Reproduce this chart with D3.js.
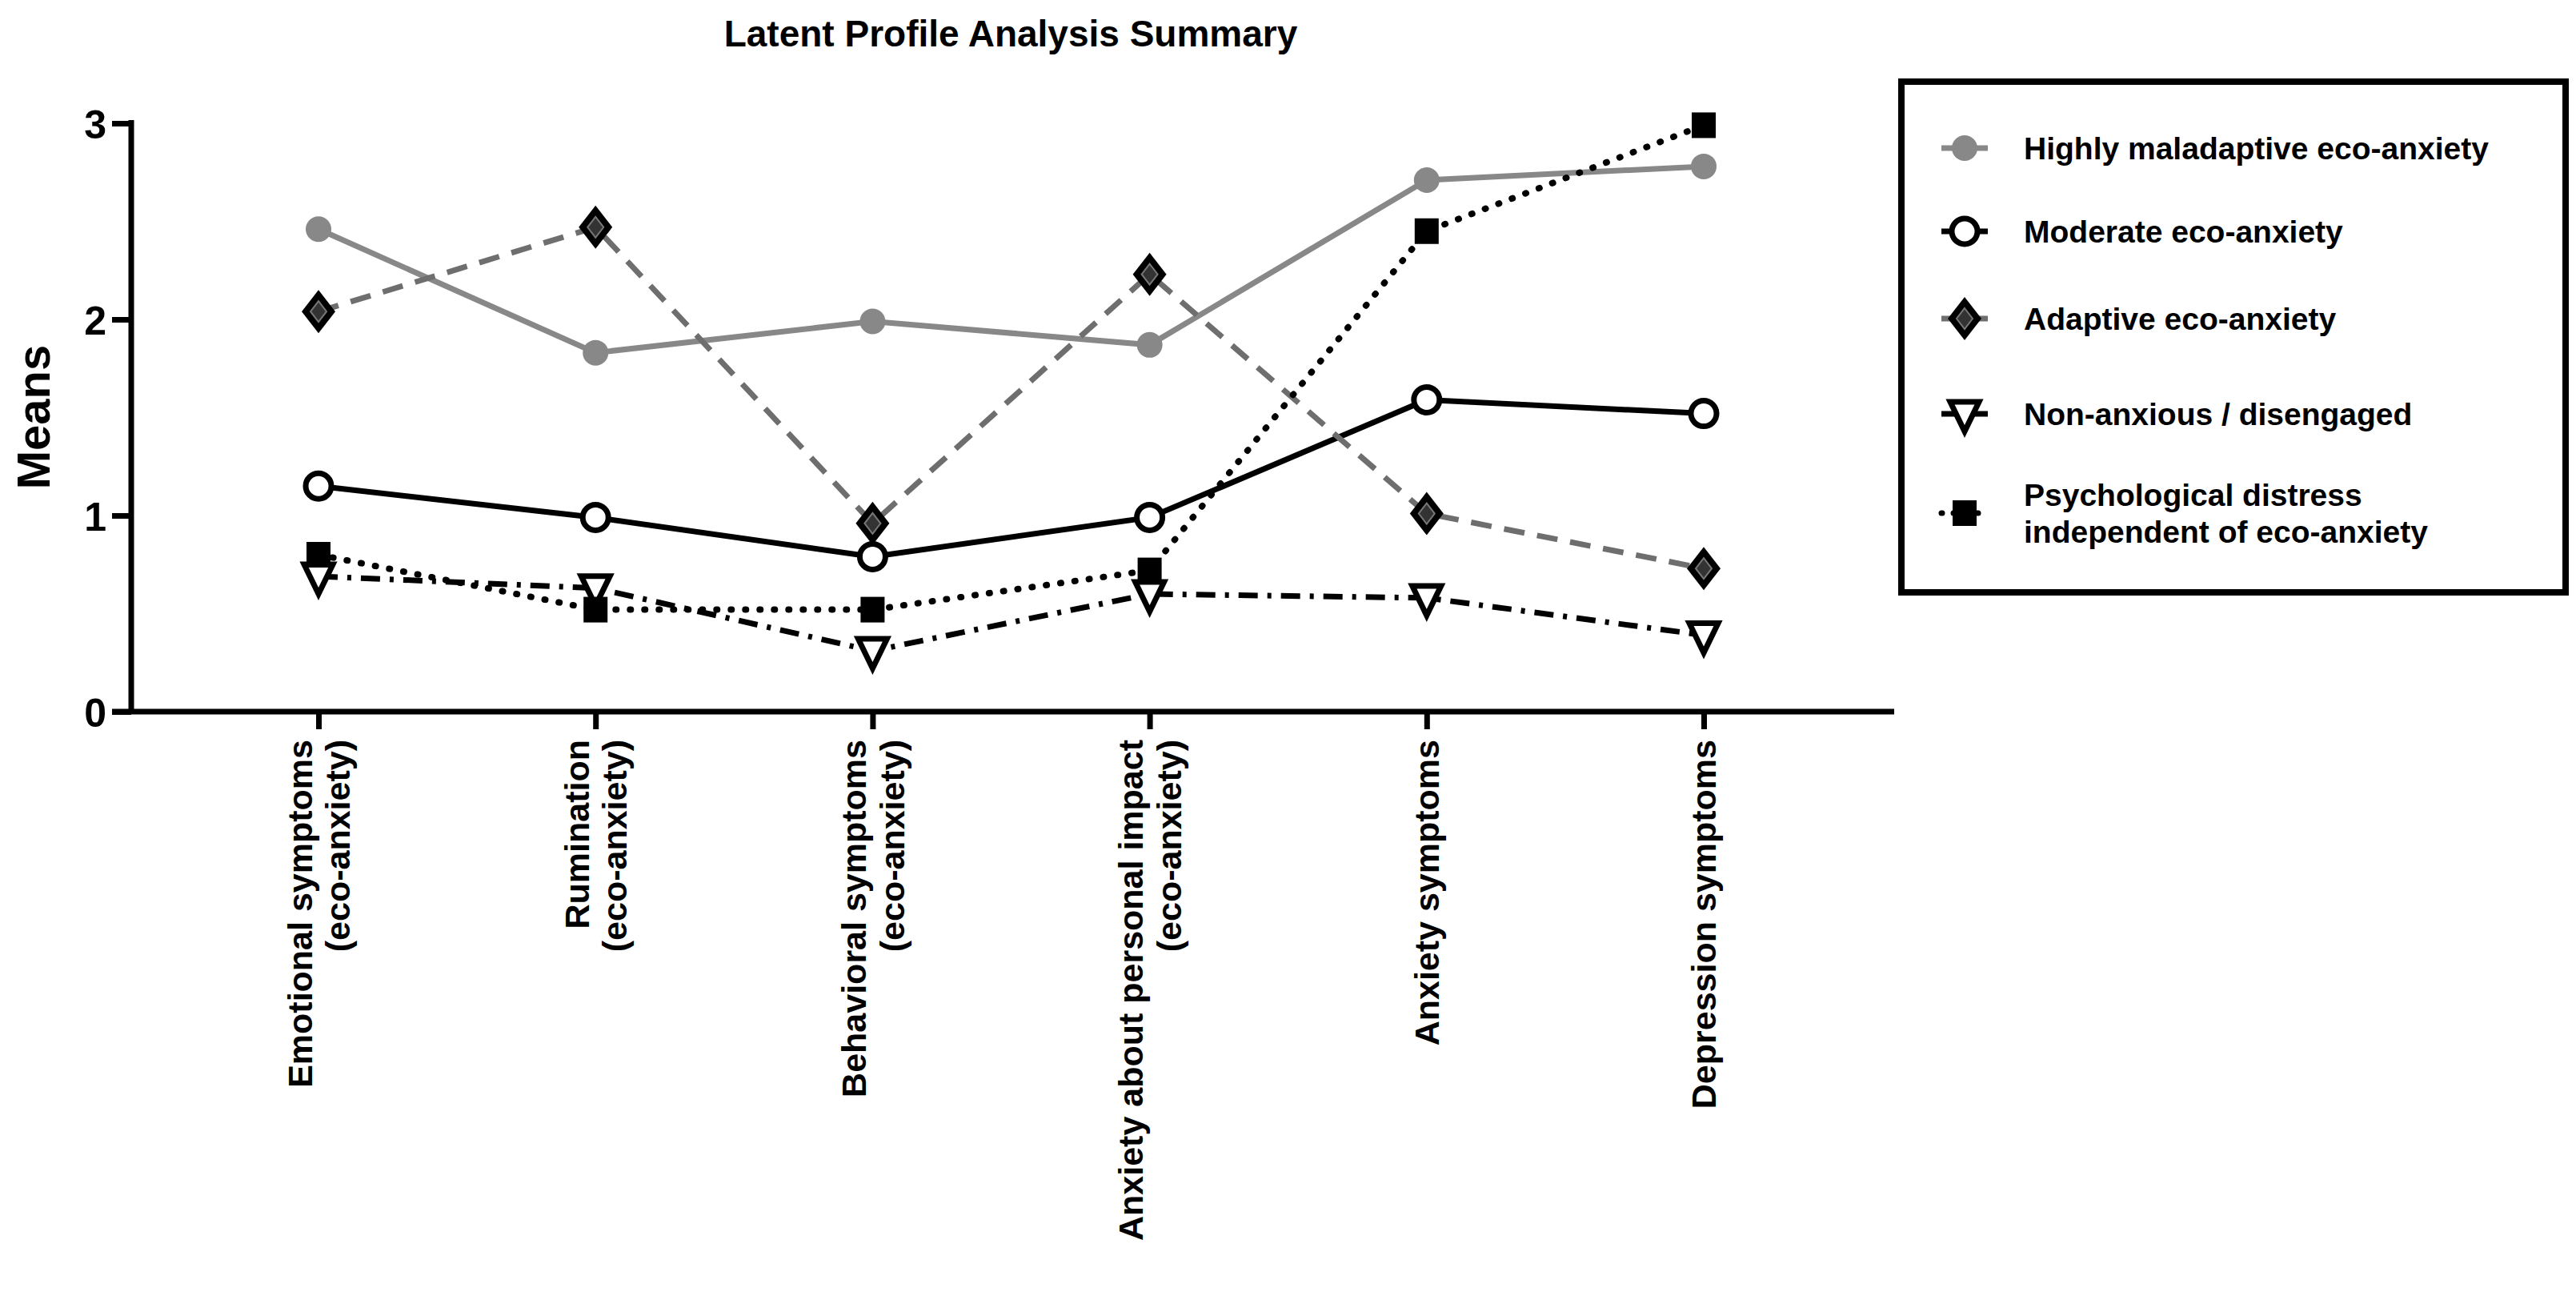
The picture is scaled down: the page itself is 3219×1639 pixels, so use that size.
<!DOCTYPE html>
<html><head><meta charset="utf-8">
<script src="https://cdn.jsdelivr.net/npm/d3@7"></script>
<style>body{margin:0;background:#fff;font-family:"Liberation Sans",Arial,sans-serif;font-weight:bold}</style>
</head><body><div id="chart"></div>
<script>
var categories = [
  ["Emotional symptoms", "(eco-anxiety)"],
  ["Rumination", "(eco-anxiety)"],
  ["Behavioral symptoms", "(eco-anxiety)"],
  ["Anxiety about personal impact", "(eco-anxiety)"],
  ["Anxiety symptoms"],
  ["Depression symptoms"]
];
var seriesNames = [
  ["Highly maladaptive eco-anxiety"],
  ["Moderate eco-anxiety"],
  ["Adaptive eco-anxiety"],
  ["Non-anxious / disengaged"],
  ["Psychological distress", "independent of eco-anxiety"]
];
var highly = [2.46, 1.83, 1.99, 1.87, 2.71, 2.78];
var moderate = [1.15, 0.99, 0.79, 0.99, 1.59, 1.52];
var adaptive = [2.04, 2.47, 0.96, 2.23, 1.01, 0.73];
var nonAnxious = [0.69, 0.63, 0.31, 0.60, 0.58, 0.39];
var distress = [0.80, 0.52, 0.52, 0.72, 2.45, 2.99];
var yTicks = [0, 1, 2, 3];

var W = 3219, H = 1639;
var svg = d3.select('#chart').append('svg').attr('width', W).attr('height', H);

var x = d3.scalePoint().domain(d3.range(categories.length)).range([398, 2129]);
var y = d3.scaleLinear().domain([0, 3]).range([889, 154]);

var styles = [
  {data: highly, color: '#888', dash: null, marker: 'circleFill'},
  {data: moderate, color: '#000', dash: null, marker: 'circleOpen'},
  {data: adaptive, color: '#6e6e6e', dash: '26,16', marker: 'diamond'},
  {data: nonAnxious, color: '#000', dash: '24,12,5,12', marker: 'tri'},
  {data: distress, color: '#000', dash: '1,17', marker: 'square'}
];

svg.append('text').attr('x', 1263).attr('y', 58).attr('text-anchor', 'middle')
  .attr('font-size', 46).text('Latent Profile Analysis Summary');

// axes
var yAxis = svg.append('g').attr('transform', 'translate(164,0)')
  .call(d3.axisLeft(y).tickValues(yTicks).tickSize(24).tickFormat(d3.format('d')));
var xAxis = svg.append('g').attr('transform', 'translate(0,889)')
  .call(d3.axisBottom(x).tickSize(22).tickFormat(''));
[yAxis, xAxis].forEach(function(a){
  a.selectAll('path,line').attr('stroke', '#000').attr('stroke-width', 7);
  a.select('.domain').remove();
});
svg.append('line').attr('x1', 164).attr('x2', 164).attr('y1', 150).attr('y2', 892)
  .attr('stroke', '#000').attr('stroke-width', 7);
svg.append('line').attr('x1', 140).attr('x2', 2367).attr('y1', 889).attr('y2', 889)
  .attr('stroke', '#000').attr('stroke-width', 7);
yAxis.selectAll('text').attr('font-size', 50).attr('font-family', 'Liberation Sans')
  .attr('font-weight', 'bold').attr('fill', '#000').attr('dx', -4).attr('dy', '0.36em');

svg.append('text').attr('transform', 'translate(62,521) rotate(-90)')
  .attr('text-anchor', 'middle').attr('font-size', 58).text('Means');

// category labels
categories.forEach(function(c, i){
  var t = svg.append('text').attr('text-anchor', 'end').attr('font-size', 43)
    .attr('transform', 'translate(' + x(i) + ',924) rotate(-90)');
  var off = (c.length - 1) * 0.55;
  c.forEach(function(line, j){
    t.append('tspan').attr('x', 0).attr('y', 0)
      .attr('dy', (0.36 - off + j * 1.1) + 'em').text(line);
  });
});

function drawMarker(g, type, px, py){
  if (type === 'circleFill') g.append('circle').attr('cx', px).attr('cy', py).attr('r', 16).attr('fill', '#888');
  if (type === 'circleOpen') g.append('circle').attr('cx', px).attr('cy', py).attr('r', 16)
    .attr('fill', '#fff').attr('stroke', '#000').attr('stroke-width', 7);
  if (type === 'diamond') {
    g.append('path').attr('d', 'M' + px + ',' + (py - 27) + 'L' + (px + 21) + ',' + py + 'L' + px + ',' + (py + 27) + 'L' + (px - 21) + ',' + py + 'Z')
      .attr('fill', '#000');
    g.append('path').attr('d', 'M' + px + ',' + (py - 13) + 'L' + (px + 10) + ',' + py + 'L' + px + ',' + (py + 13) + 'L' + (px - 10) + ',' + py + 'Z')
      .attr('fill', '#333').attr('stroke', '#777').attr('stroke-width', 2);
  }
  if (type === 'tri') g.append('path').attr('d', 'M' + (px - 18) + ',' + (py - 15) + 'L' + (px + 18) + ',' + (py - 15) + 'L' + px + ',' + (py + 22) + 'Z')
    .attr('fill', '#fff').attr('stroke', '#000').attr('stroke-width', 7).attr('stroke-linejoin', 'miter');
  if (type === 'square') g.append('rect').attr('x', px - 15).attr('y', py - 16).attr('width', 30).attr('height', 32).attr('fill', '#000');
}

var line = d3.line().x(function(d, i){ return x(i); }).y(function(d){ return y(d); });
styles.forEach(function(s){
  svg.append('path').datum(s.data).attr('d', line).attr('fill', 'none')
    .attr('stroke', s.color).attr('stroke-width', s.dash === '1,17' ? 8 : 7)
    .attr('stroke-linecap', s.dash === '1,17' ? 'round' : 'butt')
    .attr('stroke-dasharray', s.dash);
});
styles.forEach(function(s){
  var g = svg.append('g');
  s.data.forEach(function(d, i){ drawMarker(g, s.marker, x(i), y(d)); });
});

// legend
svg.append('rect').attr('x', 2376).attr('y', 102).attr('width', 830).attr('height', 638)
  .attr('fill', 'none').attr('stroke', '#000').attr('stroke-width', 8);
var legY = [185, 289, 398, 517, 641];
seriesNames.forEach(function(n, i){
  var s = styles[i], ly = legY[i];
  svg.append('line').attr('x1', 2426).attr('x2', 2484).attr('y1', ly).attr('y2', ly)
    .attr('stroke', s.color).attr('stroke-width', 7).attr('stroke-dasharray', s.dash === '1,17' ? '1,14' : null)
    .attr('stroke-linecap', s.dash === '1,17' ? 'round' : 'butt');
  drawMarker(svg.append('g'), s.marker, 2455, ly);
  var t = svg.append('text').attr('x', 2529).attr('y', ly).attr('font-size', 39);
  var off = (n.length - 1) * 0.6;
  n.forEach(function(l, j){
    t.append('tspan').attr('x', 2529).attr('y', ly).attr('dy', (0.36 - off + j * 1.2) + 'em').text(l);
  });
});
</script></body></html>
